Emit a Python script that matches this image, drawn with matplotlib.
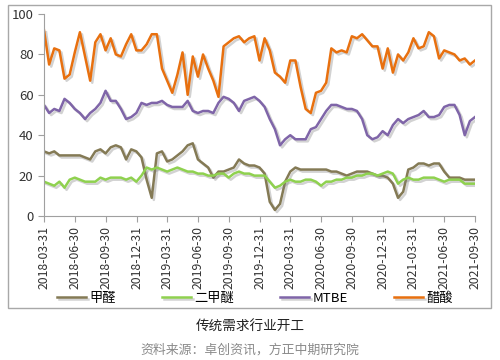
import numpy as np
import pandas as pd
import matplotlib
matplotlib.use("Agg")
import matplotlib.pyplot as plt
import matplotlib.patheffects as pe
from matplotlib.patches import Rectangle

plt.rcParams['font.family'] = ['Noto Sans CJK SC', 'DejaVu Sans']

# ---- data (~15-day spacing) ----
start_date = '2018-03-31'
end_date = '2021-09-30'

formaldehyde = [32, 31, 32, 30, 30, 30, 30, 30, 29, 28, 32, 33, 31, 34, 35, 34, 28, 33, 32, 29,
                18, 9, 31, 32, 27, 28, 30, 32, 35, 36, 28, 26, 24, 19, 22, 22, 23, 24, 28, 26,
                25, 25, 24, 21, 7, 3, 6, 17, 22, 24, 23, 23, 23, 23, 23, 23, 22, 22, 21, 20,
                21, 22, 22, 22, 21, 20, 20, 19, 16, 9, 12, 23, 24, 26, 26, 25, 26, 26, 22, 19,
                19, 19, 18, 18, 18]
dme = [17, 16, 15, 17, 14, 18, 19, 18, 17, 17, 17, 19, 18, 19, 19, 19, 18, 19, 17, 20,
       24, 23, 24, 23, 22, 23, 24, 23, 22, 22, 21, 21, 20, 20, 21, 21, 19, 21, 22, 21,
       21, 20, 20, 20, 17, 14, 15, 17, 18, 17, 17, 18, 18, 17, 15, 17, 17, 18, 18, 19,
       19, 20, 20, 21, 21, 20, 21, 22, 21, 16, 18, 19, 18, 18, 19, 19, 19, 18, 17, 18,
       18, 18, 16, 16, 16]
mtbe = [55, 51, 53, 52, 58, 56, 53, 51, 48, 51, 53, 56, 62, 57, 57, 53, 48, 49, 51, 56,
        55, 56, 56, 57, 55, 54, 54, 54, 57, 52, 51, 52, 52, 51, 56, 59, 58, 56, 52, 57,
        58, 59, 57, 54, 48, 43, 35, 38, 40, 38, 38, 38, 43, 44, 48, 52, 55, 55, 54, 53,
        53, 52, 48, 40, 38, 39, 42, 40, 45, 48, 46, 48, 49, 50, 52, 49, 49, 50, 54, 55,
        55, 50, 40, 47, 49]
acetic = [92, 75, 83, 82, 68, 70, 81, 91, 79, 67, 86, 90, 82, 88, 80, 79, 85, 90, 82, 82,
          85, 90, 90, 73, 67, 61, 70, 81, 60, 79, 69, 80, 73, 67, 59, 84, 86, 88, 89, 86,
          88, 89, 77, 88, 82, 71, 69, 66, 77, 77, 64, 53, 51, 61, 62, 66, 83, 81, 82, 81,
          89, 88, 90, 87, 84, 84, 73, 83, 71, 80, 77, 81, 88, 83, 84, 91, 89, 78, 82, 81,
          80, 77, 78, 75, 77]

names = ['甲醛', '二甲醚', 'MTBE', '醋酸']
colors = ['#847A55', '#8FD14F', '#7F65A8', '#E8700F']
title = '传统需求行业开工'
source = '资料来源：卓创资讯，方正中期研究院'

dates = pd.date_range(start_date, end_date, periods=len(acetic))
tick_dates = pd.date_range(start_date, end_date, freq='QE')


def main():
    fig = plt.figure(figsize=(5, 3.6), dpi=100)
    ax = fig.add_axes([0.088, 0.40, 0.862, 0.561])

    shadow = [pe.SimpleLineShadow(offset=(1.5, -1.5), shadow_color='#808080', alpha=0.35),
              pe.Normal()]
    for series, name, c in zip([formaldehyde, dme, mtbe, acetic], names, colors):
        ax.plot(dates, series, color=c, lw=1.8, label=name, path_effects=shadow)

    ax.set_xlim(dates[0], dates[-1])
    ax.set_ylim(0, 100)
    ax.set_yticks(np.arange(0, 101, 20))
    ax.set_xticks(tick_dates)
    ax.set_xticklabels([d.strftime('%Y-%m-%d') for d in tick_dates], rotation=90,
                       fontsize=8.8, color='#333333')
    ax.tick_params(axis='y', labelsize=9.5, colors='#333333', length=4, color='#A0A0A0')
    ax.tick_params(axis='x', length=4, color='#A0A0A0')
    for s in ['top', 'right']:
        ax.spines[s].set_visible(False)
    for s in ['left', 'bottom']:
        ax.spines[s].set_color('#A0A0A0')

    fig.legend(loc='center', bbox_to_anchor=(0.51, 0.172), ncol=4, frameon=False,
               fontsize=9.5, handlelength=2.2, columnspacing=3.5, handletextpad=0.25)

    # outer chart frame
    fig.patches.append(Rectangle((8 / 500, 1 - 308 / 360), 483 / 500, 303 / 360,
                                 transform=fig.transFigure, fill=False,
                                 edgecolor='#A8A8A8', lw=1))

    fig.text(0.5, 1 - 327 / 360, title, ha='center', va='center', fontsize=9.8,
             color='#222222')
    fig.text(0.5, 1 - 350 / 360, source, ha='center', va='center', fontsize=9.3,
             color='#8A8A8A')

    fig.savefig('out.png', dpi=100)


if __name__ == '__main__':
    main()
